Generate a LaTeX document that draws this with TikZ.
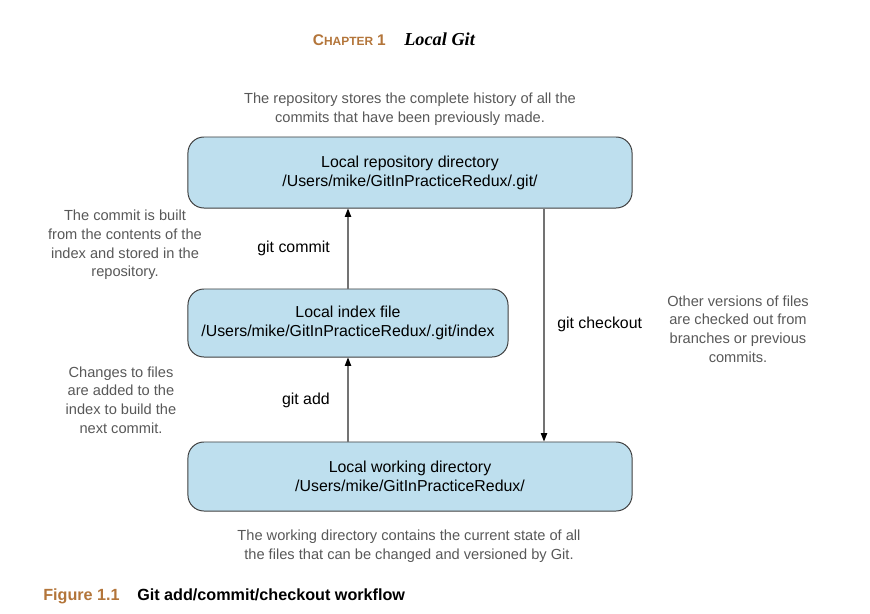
\documentclass[tikz,border=0pt]{standalone}
\usepackage{fontspec}
\setmainfont{Liberation Sans}
\newfontfamily\headserif{Liberation Serif}
\usetikzlibrary{arrows.meta}
\definecolor{boxblue}{HTML}{BEDFEE}
\definecolor{chapbrown}{HTML}{B3753A}
\definecolor{notegray}{HTML}{585858}
\newcommand{\boxline}{0.7pt}
\newcommand{\boxfont}{\fontsize{11.3}{13.6}\selectfont}
\newcommand{\notefont}{\fontsize{10.4}{13.2}\selectfont}

\tikzset{
  place/.style={draw=black!75, fill=boxblue, rounded corners=0.4cm, line width=\boxline,
    align=center, font=\boxfont, inner sep=0pt},
  note/.style={text=notegray, align=center, font=\notefont, inner sep=0pt},
  cmd/.style={font=\boxfont, inner sep=0pt},
  flow/.style={draw=black!55, line width=0.8pt, -{Triangle[length=6pt,width=4.5pt,color=black]}}
}

\begin{document}
\begin{tikzpicture}[x=0.025cm, y=-0.025cm]
\useasboundingbox (0,0) rectangle (870,613);
% header
\node[anchor=base east, inner sep=0pt, text=chapbrown, font=\bfseries] (chap) at (386,45)
  {{\fontsize{11}{13}\selectfont C}{\fontsize{8.5}{10}\selectfont HAPTER} {\fontsize{11}{13}\selectfont 1}};
\node[anchor=base west, inner sep=0pt, font=\headserif\bfseries\itshape\fontsize{13}{15}\selectfont] (title) at (404,45) {Local Git};
% boxes
\node[place, minimum width=11.1cm, minimum height=1.775cm] (repo) at (410,172.5)
  {Local repository directory\\/Users/mike/GitInPracticeRedux/.git/};
\node[place, minimum width=8cm, minimum height=1.7cm] (index) at (348,323)
  {Local index file\\/Users/mike/GitInPracticeRedux/.git/index};
\node[place, minimum width=11.1cm, minimum height=1.725cm] (work) at (410,476.5)
  {Local working directory\\/Users/mike/GitInPracticeRedux/};
\coordinate (co) at (544,0);
% arrows
\draw[flow] (index.north) -- (repo.south -| index.north);
\draw[flow] (work.north -| index.south) -- (index.south);
\draw[flow] (repo.south -| co) -- (work.north -| co);
\node[cmd, anchor=east] (commitlbl) at (330,248) {git commit};
\node[cmd, anchor=east] (addlbl) at (330,400) {git add};
\node[cmd, anchor=west] (checkoutlbl) at (557,324) {git checkout};
% notes
\node[note] (repnote) at (410,109) {The repository stores the complete history of all the\\commits that have been previously made.};
\node[note] (commitnote) at (125,245) {The commit is built\\from the contents of the\\index and stored in the\\repository.};
\node[note] (addnote) at (121,400) {Changes to files\\are added to the\\index to build the\\next commit.};
\node[note] (checkoutnote) at (738,329) {Other versions of files\\are checked out from\\branches or previous\\commits.};
\node[note] (worknote) at (409,546) {The working directory contains the current state of all\\the files that can be changed and versioned by Git.};
% caption
\node[anchor=base west, inner sep=0pt, text=chapbrown, font=\bfseries\fontsize{11.5}{14}\selectfont] (fig) at (43,600) {Figure 1.1};
\node[anchor=base west, inner sep=0pt, font=\bfseries\fontsize{11.5}{14}\selectfont] (cap) at (137,600) {Git add/commit/checkout workflow};
\end{tikzpicture}
\end{document}
